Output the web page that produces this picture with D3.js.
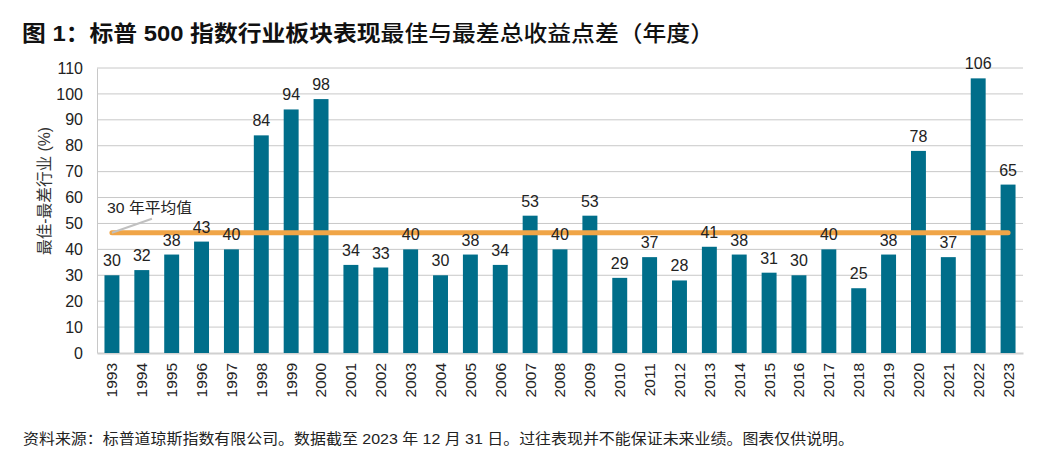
<!DOCTYPE html>
<html><head><meta charset="utf-8">
<script src="https://cdn.jsdelivr.net/npm/d3@7"></script>
<style>
body{margin:0;background:#fff;}
svg{display:block;font-family:"Liberation Sans","Noto Sans CJK SC",sans-serif;}
</style></head>
<body><svg id="c" width="1064" height="472"></svg>
<script>
const years = ["1993","1994","1995","1996","1997","1998","1999","2000","2001","2002","2003","2004","2005","2006","2007","2008","2009","2010","2011","2012","2013","2014","2015","2016","2017","2018","2019","2020","2021","2022","2023"];
const spread = [30,32,38,43,40,84,94,98,34,33,40,30,38,34,53,40,53,29,37,28,41,38,31,30,40,25,38,78,37,106,65];
const average = 46.4;
const yTicks = [0,10,20,30,40,50,60,70,80,90,100,110];

const svg = d3.select("#c");
const M = {l:97, r:1023, t:68, b:353};
const x = d3.scaleBand().domain(years).range([M.l, M.r]).paddingInner(0.5).paddingOuter(0.25);
const y = d3.scaleLinear().domain([0,110]).range([M.b, M.t]);
const LAT = "'Liberation Sans','Noto Sans CJK SC',sans-serif";

// title
const title = svg.append("text").attr("x",22).attr("y",41).attr("font-size",22).attr("fill","#111")
  .attr("font-family",LAT).attr("textLength",692).attr("lengthAdjust","spacingAndGlyphs");
title.append("tspan").attr("font-weight","bold").text("图 1：标普 500 指数行业板块表现");
title.append("tspan").attr("font-weight","500").text("最佳与最差总收益点差（年度）");

// grid
svg.append("g").selectAll("line").data(yTicks.filter(d=>d>0)).join("line")
  .attr("x1",M.l).attr("x2",M.r).attr("y1",d=>y(d)).attr("y2",d=>y(d))
  .attr("stroke","#c8c8c8").attr("stroke-width",1);

// y axis
const ya = svg.append("g").attr("transform",`translate(${M.l},0)`)
  .call(d3.axisLeft(y).tickValues(yTicks).tickSize(0).tickPadding(14));
ya.select(".domain").attr("stroke","#c8c8c8");
ya.selectAll("text").attr("font-size",16).attr("fill","#222").attr("font-family",LAT);

// x axis
const xa = svg.append("g").attr("transform",`translate(0,${M.b})`)
  .call(d3.axisBottom(x).tickSize(0));
xa.select(".domain").attr("stroke","#d0d0d0").attr("stroke-width",2);
xa.selectAll("text").attr("font-size",15.5).attr("fill","#222").attr("font-family",LAT)
  .attr("transform","rotate(-90)").attr("text-anchor","end").attr("dx","-10").attr("dy","0.35em").attr("x",0).attr("y",0);

// bars
svg.append("g").selectAll("rect").data(years).join("rect")
  .attr("x",d=>x(d)).attr("width",x.bandwidth())
  .attr("y",(d,i)=>y(spread[i])).attr("height",(d,i)=>y(0)-y(spread[i]))
  .attr("fill","#006E8A");

// average line
svg.append("line")
  .attr("x1",x(years[0])+x.bandwidth()/2).attr("x2",x(years[years.length-1])+x.bandwidth()/2)
  .attr("y1",y(average)).attr("y2",y(average))
  .attr("stroke","#F0A547").attr("stroke-width",5).attr("stroke-linecap","round");

// labels
svg.append("g").selectAll("text").data(years).join("text")
  .attr("x",d=>x(d)+x.bandwidth()/2).attr("y",(d,i)=>y(spread[i])-9)
  .attr("text-anchor","middle").attr("font-size",16).attr("fill","#222")
  .attr("font-family",LAT)
  .text((d,i)=>spread[i]);

// annotation
const ax0 = x(years[0])+x.bandwidth()/2;
svg.append("line").attr("x1",ax0).attr("y1",y(average)).attr("x2",ax0+40).attr("y2",y(average)-14)
  .attr("stroke","#c0c0c0").attr("stroke-width",2);
svg.append("text").attr("x",107).attr("y",213).attr("font-size",15).attr("fill","#222")
  .attr("font-family",LAT).attr("textLength",85).attr("lengthAdjust","spacingAndGlyphs").text("30 年平均值");

// y label
svg.append("text").attr("transform",`translate(50,191) rotate(-90)`)
  .attr("text-anchor","middle").attr("font-size",16).attr("fill","#333")
  .attr("font-family",LAT).attr("textLength",128).attr("lengthAdjust","spacingAndGlyphs").text("最佳-最差行业 (%)");

// footer
svg.append("text").attr("x",23).attr("y",444).attr("font-size",14.5).attr("fill","#222")
  .attr("font-family",LAT).attr("textLength",831).attr("lengthAdjust","spacingAndGlyphs")
  .text("资料来源：标普道琼斯指数有限公司。数据截至 2023 年 12 月 31 日。过往表现并不能保证未来业绩。图表仅供说明。");
</script></body></html>
